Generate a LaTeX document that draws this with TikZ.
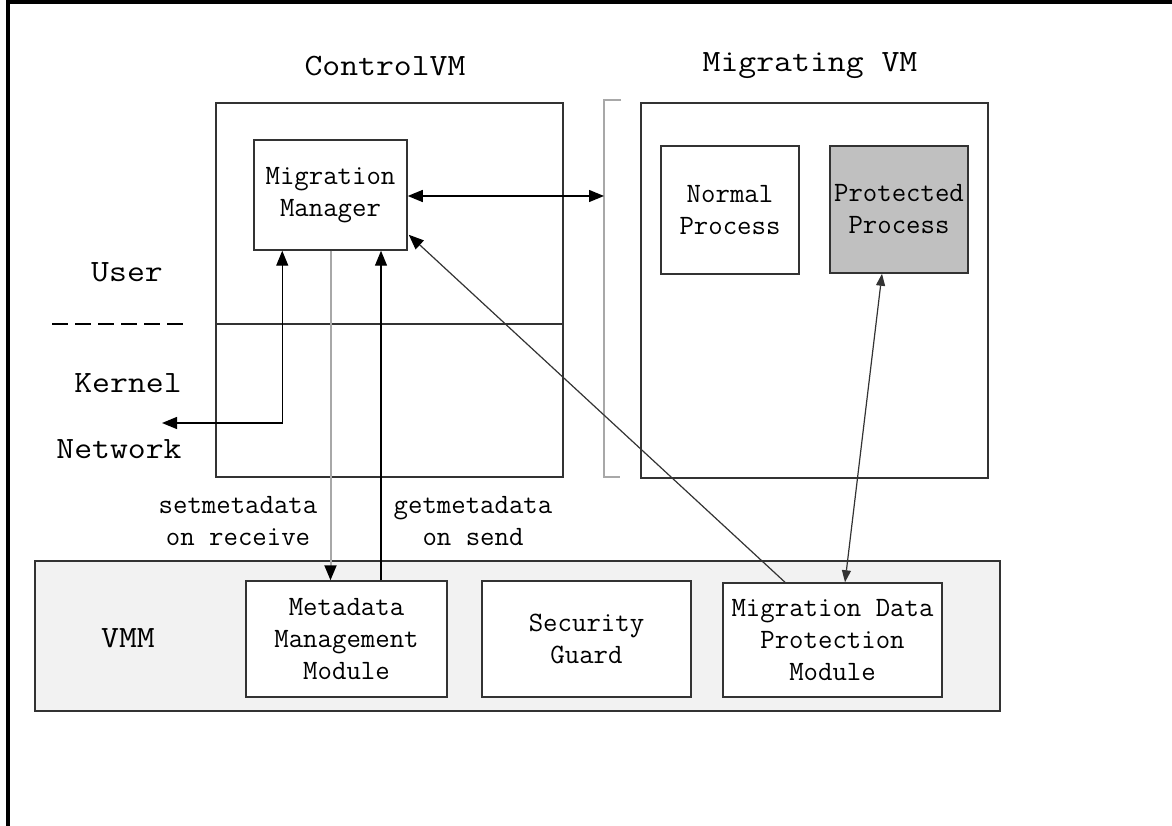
\documentclass[tikz,border=0pt]{standalone}
\usepackage{fontspec}
\usetikzlibrary{arrows.meta,calc}
\newfontfamily\widemono[FakeStretch=1.12]{Latin Modern Mono}
\newfontfamily\plainmono{Latin Modern Mono}
\definecolor{edge}{HTML}{333333}
\definecolor{vmmfill}{HTML}{F2F2F2}
\definecolor{protfill}{HTML}{C0C0C0}
\definecolor{bracketgray}{HTML}{A8A8A8}
\tikzset{
  bigtext/.style={font=\fontsize{31}{33}\selectfont\widemono, inner sep=0pt},
  boxtext/.style={font=\fontsize{28}{32}\selectfont\plainmono, align=center},
  box/.style={draw=edge, line width=1.5pt, inner sep=0pt, boxtext},
  bigtip/.style={-{Triangle[length=15pt,width=12pt]}},
  dualbig/.style={{Triangle[length=15pt,width=12pt]}-{Triangle[length=15pt,width=12pt]}},
  dualsmall/.style={{Triangle[length=12pt,width=9pt]}-{Triangle[length=12pt,width=9pt]}},
  conn/.style={line width=1.3pt, black},
}
\begin{document}
\begin{tikzpicture}[x=1pt,y=-1pt]
\useasboundingbox (0,0) rectangle (1172,826);
\fill[white] (0,0) rectangle (1172,826);

% page frame (top and left edges)
\draw[line width=4pt, black] (8,826) -- (8,2) -- (1172,2);

% VM containers
\node[box, minimum width=347pt, minimum height=374pt] (cvm) at (389.5,290) {};
\node[box, minimum width=347pt, minimum height=375pt] (mvm) at (814.5,290.5) {};
\draw[edge, line width=1.5pt] (cvm.west |- 0,324) -- (cvm.east |- 0,324);

\node[bigtext] (cvmlabel) at (385,66) {ControlVM};
\node[bigtext] (mvmlabel) at (810,66) {Migrating VM};

% boundary bracket of the migrating VM
\draw[bracketgray, line width=2.5pt] (621,100) -- (604,100) -- (604,477) -- (620,477);
\coordinate (br) at (604,196);

% user / kernel split
\node[bigtext] (user) at (127,272) {User};
\draw[black, line width=1.5pt, dash pattern=on 16pt off 7pt] (52,324) -- (190,324);
\node[bigtext] (kernel) at (128,383) {Kernel};
\node[bigtext] (network) at (119,449) {Network};
\coordinate (net) at (162,423);

% boxes inside the VMs
\node[box, fill=white, minimum width=153pt, minimum height=110pt] (mm) at (330.5,195) {Migration\\Manager};
\node[box, fill=white, minimum width=138pt, minimum height=128pt] (np) at (730,210) {Normal\\Process};
\node[box, fill=protfill, minimum width=138pt, minimum height=127pt] (pp) at (899,209.5) {Protected\\Process};

% VMM layer
\node[box, fill=vmmfill, minimum width=965pt, minimum height=150pt] (vmm) at (517.5,636) {};
\node[bigtext, font=\fontsize{31}{33}\selectfont\widemono] (vmmlabel) at (128,638) {VMM};
\node[box, fill=white, minimum width=201pt, minimum height=116pt] (meta) at (346.5,639) {Metadata\\Management\\Module};
\node[box, fill=white, minimum width=209pt, minimum height=116pt] (guard) at (586.5,639) {Security\\Guard};
\node[box, fill=white, minimum width=219pt, minimum height=114pt] (mdpm) at (832.5,640) {Migration Data\\Protection\\Module};

% connector end points
\coordinate (netup) at ($(mm.south west)+(29,0)$);
\coordinate (getlow) at ($(meta.north)+(34.5,0)$);
\coordinate (gethigh) at (getlow |- mm.south);
\coordinate (diagfrom) at ($(mdpm.north)+(-47.5,0)$);
\coordinate (diagto) at ($(mm.south east)+(1,-16)$);
\coordinate (ppfoot) at ($(pp.south)+(-17,0)$);
\coordinate (mdpmtop) at ($(mdpm.north)+(12.5,0)$);

% connectors
\draw[conn, dualbig] (mm.east |- br) -- (br);
\draw[conn, dualbig] (net) -| (netup);
\draw[line width=2pt, bracketgray, -{Triangle[length=15pt,width=12pt,color=black]}] (mm.south) -- (mm.south |- meta.north);
\draw[conn, bigtip] (getlow) -- (gethigh);
\draw[line width=1.2pt, edge, -{Triangle[length=15pt,width=12pt,color=black]}] (diagfrom) -- (diagto);
\draw[line width=1.2pt, edge, dualsmall] (ppfoot) -- (mdpmtop);

% edge labels
\node[boxtext] (setlabel) at (238,521) {setmetadata\\on receive};
\node[boxtext] (getlabel) at (473,521) {getmetadata\\on send};
\end{tikzpicture}
\end{document}
